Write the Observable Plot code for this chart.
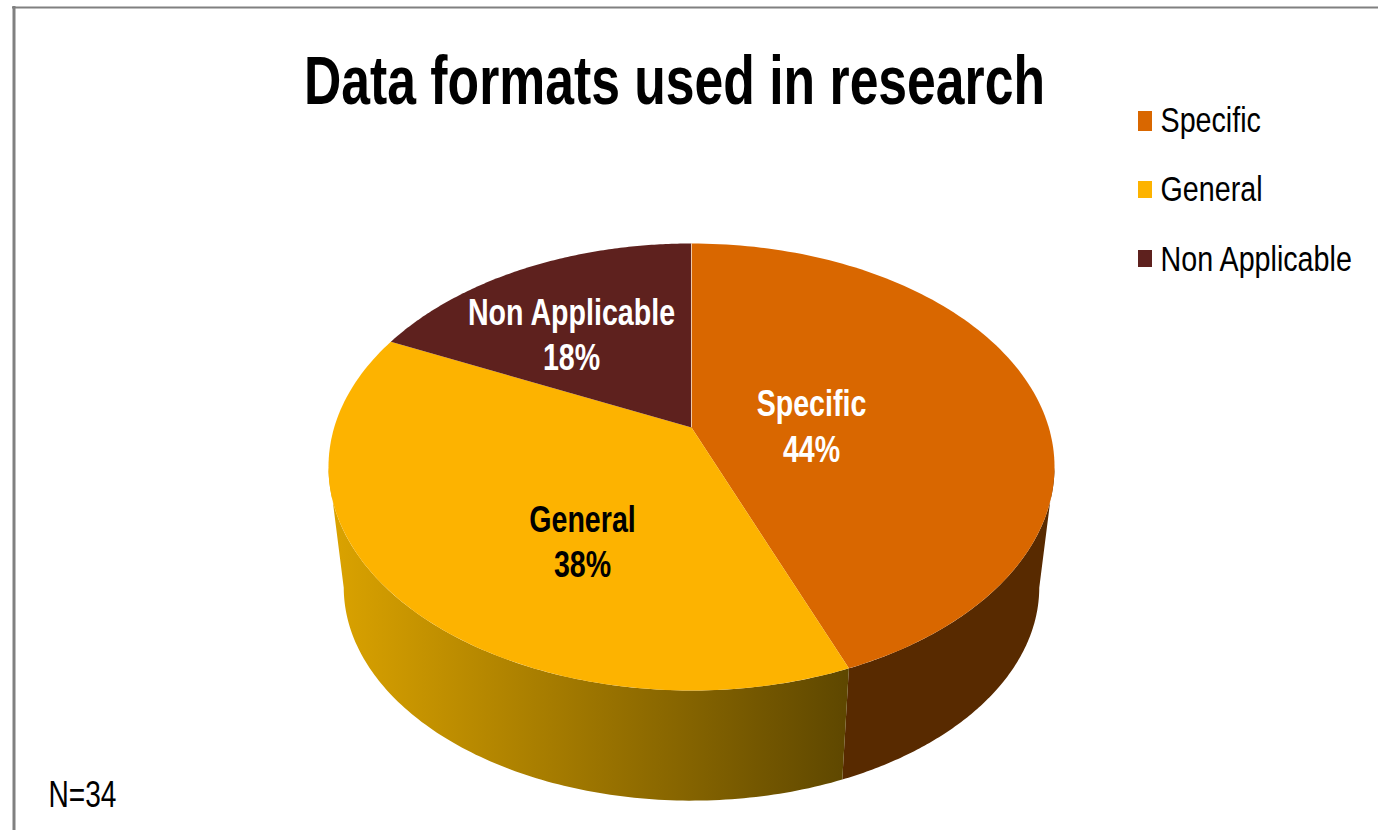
<!DOCTYPE html>
<html><head><meta charset="utf-8">
<style>html,body{margin:0;padding:0;background:#fff;overflow:hidden}svg{display:block}</style>
<script src="https://cdn.jsdelivr.net/npm/d3@7"></script>
<script src="https://cdn.jsdelivr.net/npm/@observablehq/plot@0.6"></script>
</head><body><div id="chart"></div>
<script>
const categories = ["Specific", "General", "Non Applicable"];
const percents = [44, 38, 18];
const topColors = ["#d96700", "#fdb300", "#5e211e"];
const sideColors = ["#582a00", "url(#sideGradient)", "#5e211e"];
const labelColors = ["#fff", "#000", "#fff"];
const chartTitle = "Data formats used in research";
const sampleNote = "N=34";

const W = 1378, H = 830;
const cx = 691, topCy = 427, a = 357.3, b = 216.5, k = 0.1767;
const botCy = 549, botScale = 0.958, botScaleY = 0.955;
const rim = (t, cy = topCy, sx = 1, sy = 1) => {
  const u = Math.sin(t), v = Math.cos(t), d = 1 + k * v;
  return {x: cx + sx * a * u / d, y: cy - sy * b * v / d};
};
const bottomRim = t => rim(t, botCy, botScale, botScaleY);
const arcs = d3.pie().sort(null).value(d => d)(percents);
const sweep = (t0, t1) => d3.range(0, 121).map(i => t0 + (t1 - t0) * i / 120);

const tops = [], sides = [];
arcs.forEach((s, i) => {
  tops.push({i, x: cx, y: topCy});
  sweep(s.startAngle, s.endAngle).forEach(t => tops.push({i, ...rim(t)}));
  const lo = Math.max(s.startAngle, Math.PI / 2 + 0.18), hi = Math.min(s.endAngle, 3 * Math.PI / 2 - 0.18);
  if (lo < hi) {
    sweep(lo, hi).forEach(t => sides.push({i, ...rim(t)}));
    sweep(hi, lo).forEach(t => sides.push({i, ...bottomRim(t)}));
  }
});

// Baseline helper: Plot's middle line anchor sits the baseline 0.32em below y.
const baselineY = (base, size, sy) => base - 0.32 * size * sy;
const labelSize = 28.6, labelSy = 1.32;
const labelBase = [[415, 461], [531, 576], [324, 369]];
const labelX = [811, 582, 571];
const labels = categories.flatMap((c, i) => [
  {text: c, x: labelX[i], y: baselineY(labelBase[i][0], labelSize, labelSy), c: labelColors[i]},
  {text: percents[i] + "%", x: labelX[i], y: baselineY(labelBase[i][1], labelSize, labelSy), c: labelColors[i]}
]);
const legendSize = 25.5, legendSx = 1.125, legendSy = 1.41;
const legendBase = [131, 200.5, 270];
const swatchTop = [111, 181, 250], swatchBottom = [131, 198, 267];
const legend = categories.map((c, i) => ({c, i, y1: swatchTop[i], y2: swatchBottom[i], ty: baselineY(legendBase[i], legendSize, legendSy)}));

const titleSize = 51.7, titleSy = 1.32;
const noteSize = 28.1, noteSy = 1.33;

const gradient = () => {
  const ns = "http://www.w3.org/2000/svg";
  const defs = document.createElementNS(ns, "defs");
  defs.innerHTML = `<linearGradient id="sideGradient" gradientUnits="userSpaceOnUse" x1="330" y1="0" x2="848" y2="0">
    <stop offset="0" stop-color="#dba300"/><stop offset="1" stop-color="#5e4700"/></linearGradient>`;
  return defs;
};

const plot = Plot.plot({
  width: W, height: H, margin: 0,
  style: {background: "#fff", fontFamily: "'Liberation Sans', Arial, sans-serif"},
  x: {domain: [0, W], range: [0, W], axis: null},
  y: {domain: [0, H], range: [0, H], axis: null},
  marks: [
    gradient,
    Plot.line(sides, {x: "x", y: "y", z: "i", fill: d => sideColors[d.i], stroke: "none", curve: "linear"}),
    Plot.line(tops, {x: "x", y: "y", z: "i", fill: d => topColors[d.i], stroke: "none", curve: "linear"}),
    Plot.ruleX([cx], {y1: rim(0).y, y2: topCy, stroke: "#eec9a8", strokeWidth: 1}),
    Plot.ruleX([13.5], {y1: 6, y2: H, stroke: "#808080", strokeWidth: 3}),
    Plot.ruleY([7], {x1: 12, x2: W, stroke: "#808080", strokeWidth: 2}),
    Plot.rect(legend, {x1: 1138, x2: 1152, y1: "y1", y2: "y2", fill: d => topColors[d.i]}),
    Plot.text(legend, {x: 1160, y: "ty", text: "c", textAnchor: "start", lineAnchor: "middle", fontSize: legendSize, fill: "#000", className: "legend-text"}),
    Plot.text(labels, {x: "x", y: "y", text: "text", fill: "c", fontSize: labelSize, fontWeight: "bold", lineAnchor: "middle", className: "pie-label"}),
    Plot.text([chartTitle], {x: 674, y: baselineY(103, titleSize, titleSy), fontSize: titleSize, fontWeight: "bold", fill: "#000", lineAnchor: "middle", className: "chart-title"}),
    Plot.text([sampleNote], {x: 48, y: baselineY(806.5, noteSize, noteSy), fontSize: noteSize, fill: "#000", textAnchor: "start", lineAnchor: "middle", className: "note"})
  ]
});
// The reference's lettering is stretched: scale each text about its own anchor.
const stretch = (sel, sx, sy) => plot.querySelectorAll(sel + " text").forEach(t => {
  t.setAttribute("transform", `${t.getAttribute("transform") || ""} scale(${sx},${sy})`);
});
stretch(".chart-title", 1, titleSy);
stretch(".legend-text", legendSx, legendSy);
stretch(".pie-label", 1, labelSy);
stretch(".note", 1, noteSy);
document.getElementById("chart").append(plot);
</script></body></html>
